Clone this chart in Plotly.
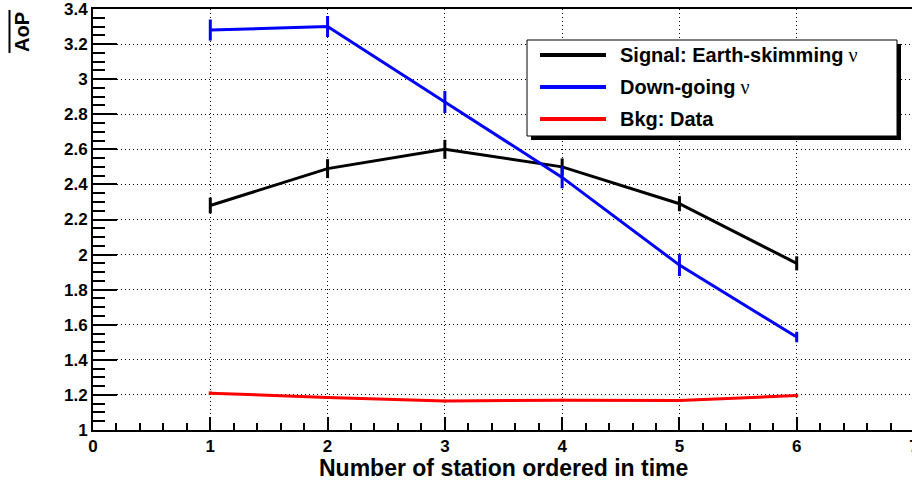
import plotly.graph_objects as go

# ---- data ----
stations = [1, 2, 3, 4, 5, 6]
signal_aop = [2.28, 2.49, 2.60, 2.50, 2.29, 1.95]
signal_err = [0.045, 0.054, 0.054, 0.048, 0.043, 0.040]
down_aop = [3.28, 3.30, 2.87, 2.44, 1.94, 1.53]
down_err = [0.060, 0.060, 0.063, 0.062, 0.062, 0.030]
bkg_aop = [1.21, 1.185, 1.165, 1.17, 1.168, 1.196]
bkg_err = [0.010, 0.008, 0.008, 0.008, 0.008, 0.010]

series_names = ["Signal: Earth-skimming", "Down-going", "Bkg: Data"]
series_suffix = [" ν", " ν", ""]
series_colors = ["#000000", "#0000ff", "#ff0000"]

x_tick_vals = [0, 1, 2, 3, 4, 5, 6, 7]
x_tick_text = ["0", "1", "2", "3", "4", "5", "6", "7"]
y_tick_vals = [1.0, 1.2, 1.4, 1.6, 1.8, 2.0, 2.2, 2.4, 2.6, 2.8, 3.0, 3.2, 3.4]
y_tick_text = ["1", "1.2", "1.4", "1.6", "1.8", "2", "2.2", "2.4", "2.6", "2.8", "3", "3.2", "3.4"]

W, H = 914, 487
ML, MR, MT, MB = 93, 0, 9, 57
PW, PH = W - ML - MR, H - MT - MB


def px(xp):
    return (xp - ML) / PW


def py(yp):
    return (H - MB - yp) / PH


FONT = "Liberation Sans, Arial, Helvetica, sans-serif"

fig = go.Figure()
for vals, errs, col, name in zip([signal_aop, down_aop, bkg_aop],
                                 [signal_err, down_err, bkg_err],
                                 series_colors, series_names):
    fig.add_trace(go.Scatter(
        x=stations, y=vals, mode="lines", name=name,
        line=dict(color=col, width=3),
        error_y=dict(type="data", array=errs, visible=True, width=0,
                     thickness=3, color=col),
        showlegend=False, hoverinfo="skip",
    ))

axis_common = dict(
    showline=True, linecolor="black", linewidth=2,
    ticks="inside", tickcolor="black", tickwidth=2,
    showgrid=True, gridcolor="black", griddash="1px,3px", gridwidth=1,
    zeroline=False, ticklabeloverflow="allow", automargin=False,
    tickfont=dict(family=FONT, size=17, color="black", weight="bold"),
)

fig.update_xaxes(
    range=[0, 7], tickvals=x_tick_vals,
    ticktext=["<b>" + t + "</b>" for t in x_tick_text],
    ticklen=13, mirror=True,
    minor=dict(ticks="inside", ticklen=7, dtick=0.2, tickwidth=2,
               tickcolor="black", showgrid=False),
    **axis_common,
)
fig.update_yaxes(
    range=[1, 3.4], tickvals=y_tick_vals,
    ticktext=["<b>" + t + "</b>" for t in y_tick_text],
    ticklen=24, mirror=False,
    minor=dict(ticks="inside", ticklen=12, dtick=0.05, tickwidth=2,
               tickcolor="black", showgrid=False),
    **axis_common,
)

shapes = []
annotations = []

# y-axis title with overline
annotations.append(dict(
    xref="paper", yref="paper", x=px(22), y=py(10), xanchor="center",
    yanchor="top", text="<b>AoP</b>", textangle=-90, showarrow=False,
    font=dict(family=FONT, size=20, color="black", weight="bold"),
))
shapes.append(dict(type="line", xref="paper", yref="paper",
                   x0=px(9.5), x1=px(9.5), y0=py(10), y1=py(53),
                   line=dict(color="black", width=2)))

# x-axis title
annotations.append(dict(
    xref="paper", yref="paper", x=px(503), y=py(468), xanchor="center",
    yanchor="middle", text="<b>Number of station ordered in time</b>",
    showarrow=False,
    font=dict(family=FONT, size=23, color="black", weight="bold"),
))

# legend (box with shadow)
bx0, bx1, by0, by1 = 527, 897, 40, 136
shapes.append(dict(type="rect", xref="paper", yref="paper",
                   x0=px(bx0 + 4), x1=px(bx1 + 4), y0=py(by0 + 4), y1=py(by1 + 4),
                   fillcolor="black", line=dict(width=0), layer="above"))
shapes.append(dict(type="rect", xref="paper", yref="paper",
                   x0=px(bx0), x1=px(bx1), y0=py(by0), y1=py(by1),
                   fillcolor="white", line=dict(color="black", width=1),
                   layer="above"))
rows = [55, 87, 119]
for ry, name, suf, col in zip(rows, series_names, series_suffix, series_colors):
    shapes.append(dict(type="line", xref="paper", yref="paper",
                       x0=px(540), x1=px(606), y0=py(ry), y1=py(ry),
                       line=dict(color=col, width=4), layer="above"))
    txt = "<b>" + name + "</b>"
    if suf:
        txt += "<span style='font-family:Liberation Serif;font-weight:normal'>" + suf + "</span>"
    annotations.append(dict(
        xref="paper", yref="paper", x=px(618), y=py(ry), xanchor="left",
        yanchor="middle", text=txt, showarrow=False,
        font=dict(family=FONT, size=20, color="black", weight="bold"),
    ))

fig.update_layout(
    width=W, height=H,
    margin=dict(l=ML, r=MR, t=MT, b=MB, pad=0, autoexpand=False),
    paper_bgcolor="white", plot_bgcolor="white",
    shapes=shapes, annotations=annotations,
    showlegend=False, hovermode=False,
    font=dict(family=FONT, color="black"),
)

fig.write_html(
    "out.html",
    config={"displayModeBar": False},
    post_script=("document.body.style.margin='0';document.body.style.padding='0';"
                 "document.body.style.overflow='hidden';"
                 "document.documentElement.style.overflow='hidden';"),
)
